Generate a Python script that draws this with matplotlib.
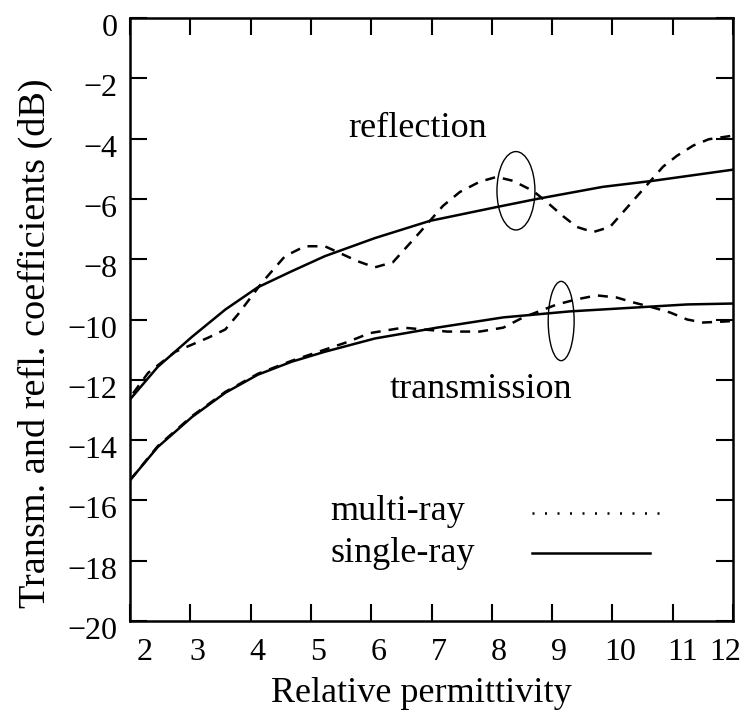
import matplotlib
matplotlib.use("Agg")
import matplotlib.pyplot as plt
import matplotlib.transforms as mtransforms
from matplotlib.patches import Ellipse

plt.rcParams['font.family'] = ['Liberation Serif', 'DejaVu Serif']

# reflection coefficient (dB) vs relative permittivity
refl_single_x = [2.0, 2.46, 3.03, 3.58, 4.12, 4.68, 5.23, 6.06, 6.97, 8.08, 8.75, 9.84, 10.67, 12.0]
refl_single_y = [-12.65, -11.57, -10.57, -9.67, -8.93, -8.4, -7.9, -7.3, -6.73, -6.27, -6.0, -5.6, -5.4, -5.03]

refl_multi_x = [2.05, 2.3, 2.75, 3.3, 3.58, 3.79, 4.19, 4.57, 4.9, 5.23, 5.78, 6.06, 6.36, 6.81,
                7.19, 7.47, 7.8, 8.08, 8.35, 8.68, 8.91, 9.18, 9.41, 9.68, 9.96, 10.18, 10.4,
                10.62, 10.84, 11.07, 11.34, 11.6, 12.0]
refl_multi_y = [-12.45, -11.77, -11.07, -10.6, -10.33, -9.83, -8.77, -7.9, -7.57, -7.57, -8.07, -8.27,
                -8.1, -7.1, -6.23, -5.77, -5.43, -5.27, -5.4, -5.73, -6.1, -6.57, -6.93, -7.1,
                -6.93, -6.43, -5.93, -5.43, -4.93, -4.57, -4.23, -4.02, -3.9]

# transmission coefficient (dB)
trans_single_x = [2.0, 2.46, 3.03, 3.58, 4.12, 4.68, 5.23, 6.06, 7.09, 8.19, 9.3, 10.4, 11.24, 12.0]
trans_single_y = [-15.33, -14.23, -13.23, -12.43, -11.83, -11.4, -11.07, -10.63, -10.27, -9.93,
                  -9.73, -9.6, -9.5, -9.47]

trans_multi_x = [2.0, 2.46, 3.03, 3.58, 4.12, 4.68, 5.23, 5.6, 5.98, 6.53, 7.26, 7.8, 8.19, 8.52,
                 9.08, 9.41, 9.74, 10.07, 10.34, 10.67, 10.96, 11.24, 11.5, 11.83, 12.0]
trans_multi_y = [-15.33, -14.2, -13.2, -12.4, -11.8, -11.37, -11.0, -10.75, -10.45, -10.27, -10.4,
                 -10.4, -10.27, -9.93, -9.5, -9.33, -9.2, -9.27, -9.43, -9.6, -9.77, -10.0, -10.1,
                 -10.07, -10.05]

x_ticks = [2, 3, 4, 5, 6, 7, 8, 9, 10, 11, 12]
y_ticks = [0, -2, -4, -6, -8, -10, -12, -14, -16, -18, -20]

lw = 1.8
dash = (0, (4, 3.2))
dots = (0, (0.8, 4.2))

fig = plt.figure(figsize=(7.46, 7.18), dpi=100)
ax = fig.add_axes([0.1743, 0.1351, 0.8083, 0.8398])

ax.plot(refl_single_x, refl_single_y, color='black', lw=lw)
ax.plot(refl_multi_x, refl_multi_y, color='black', lw=lw, linestyle=dash)
ax.plot(trans_single_x, trans_single_y, color='black', lw=lw)
ax.plot(trans_multi_x, trans_multi_y, color='black', lw=lw, linestyle=dash)

# ellipses grouping the curve pairs
ax.add_patch(Ellipse((8.40, -5.73), 0.63, 2.6, fill=False, color='black', lw=1.0))
ax.add_patch(Ellipse((9.15, -10.05), 0.43, 2.63, fill=False, color='black', lw=1.0))

ax.text(5.615, -3.95, 'reflection', fontsize=26, ha='left', va='baseline')
ax.text(6.31, -12.6, 'transmission', fontsize=26, ha='left', va='baseline')

# hand-drawn style key
ax.text(5.32, -16.65, 'multi-ray', fontsize=26, ha='left', va='baseline')
ax.text(5.32, -18.04, 'single-ray', fontsize=26, ha='left', va='baseline')
ax.plot([8.67, 10.79], [-16.43, -16.43], color='black', lw=lw, linestyle=dots)
ax.plot([8.67, 10.62], [-17.73, -17.73], color='black', lw=lw)

ax.set_xlim(2, 12)
ax.set_ylim(-20, 0)
ax.set_xticks(x_ticks)
ax.set_yticks(y_ticks)
ax.set_xticklabels([str(t) for t in x_ticks])
ax.set_yticklabels(['0' if t == 0 else '\u2212%d' % -t for t in y_ticks])

ax.tick_params(direction='in', length=12, width=1.5, labelsize=23,
               top=True, right=True)
ax.tick_params(axis='x', pad=12)
ax.tick_params(axis='y', pad=9)

for s in ax.spines.values():
    s.set_linewidth(1.8)

# nudge tick labels the way they sit in the original figure
x_shift = [15, 7, 7, 7, 7, 7, 7, 7, 8, 10, -8]
for lab, dx in zip(ax.get_xticklabels(), x_shift):
    lab.set_transform(lab.get_transform() +
                      mtransforms.ScaledTranslation(dx / 100, 0, fig.dpi_scale_trans))
for lab in ax.get_yticklabels():
    lab.set_transform(lab.get_transform() +
                      mtransforms.ScaledTranslation(0, -7 / 100, fig.dpi_scale_trans))

ax.set_xlabel('Relative permittivity', fontsize=26)
ax.xaxis.label.set_va('center')
ax.xaxis.set_label_coords(0.483, -0.12)
ax.set_ylabel('Transm. and refl. coefficients (dB)', fontsize=27.5)
ax.yaxis.label.set_va('center')
ax.yaxis.set_label_coords(-0.157, 0.461)

fig.savefig('out.png', dpi=100)
